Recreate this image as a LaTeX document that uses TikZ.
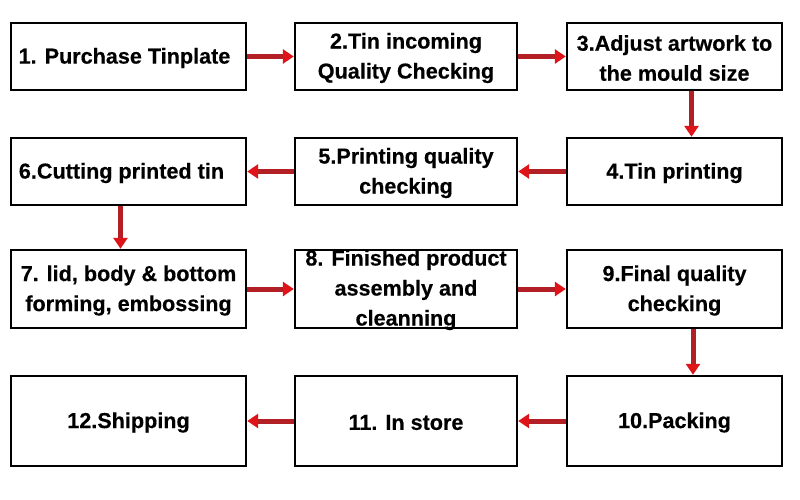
\documentclass[tikz,border=0pt]{standalone}
\usepackage{fontspec}
\setmainfont{Liberation Sans}[FakeBold=0.4]
\usetikzlibrary{arrows.meta}
\definecolor{shaftred}{RGB}{178,32,38}
\definecolor{headred}{RGB}{222,20,24}
\begin{document}
\begin{tikzpicture}[x=1pt,y=-1pt,
 box/.style={draw=black, line width=2.4pt, fill=white, inner sep=0pt},
 wbox/.style={box, minimum width=235pt},
 mbox/.style={box, minimum width=222pt},
 ebox/.style={box, minimum width=215pt},
 shortrow/.style={minimum height=67pt},
 midrow/.style={minimum height=78pt},
 lastrow/.style={minimum height=90pt},
 txt/.style={align=center, inner sep=0pt, font=\fontsize{21.6}{30}\selectfont\bfseries},
 flow/.style={draw=shaftred, line width=5pt,
   -{Triangle[length=11pt,width=14pt,color=headred]}}]
\fill[white] (0,0) rectangle (800,500);
\useasboundingbox (0,0) rectangle (800,500);

\node[wbox,shortrow] (n1) at (128.5,56.5) {};
\node[mbox,shortrow] (n2) at (406,56.5) {};
\node[ebox,shortrow] (n3) at (674.5,56.5) {};
\node[ebox,shortrow] (n4) at (674.5,171.5) {};
\node[mbox,shortrow] (n5) at (406,171.5) {};
\node[wbox,shortrow] (n6) at (128.5,171.5) {};
\node[wbox,midrow] (n7) at (128.5,289) {};
\node[mbox,midrow] (n8) at (406,289) {};
\node[ebox,midrow] (n9) at (674.5,289) {};
\node[ebox,lastrow] (n10) at (674.5,421) {};
\node[mbox,lastrow] (n11) at (406,421) {};
\node[wbox,lastrow] (n12) at (128.5,421) {};

\node[txt] (t1) at ([xshift=-4pt,yshift=-1.5pt]n1.center) {1. Purchase Tinplate};
\node[txt] (t2) at ([yshift=-1.5pt]n2.center) {2.Tin incoming\\Quality Checking};
\node[txt] (t3) at ([yshift=-1.5pt]n3.center) {3.Adjust artwork to\\the mould size};
\node[txt] (t4) at ([yshift=-1.5pt]n4.center) {4.Tin printing};
\node[txt] (t5) at ([yshift=-1.5pt]n5.center) {5.Printing quality\\checking};
\node[txt] (t6) at ([xshift=-7pt,yshift=-1.5pt]n6.center) {6.Cutting printed tin};
\node[txt] (t7) at ([yshift=-1.5pt]n7.center) {7. lid, body \& bottom\\forming, embossing};
\node[txt] (t8) at ([yshift=-1pt]n8.center) {8. Finished product\\assembly and\\cleanning};
\node[txt] (t9) at ([yshift=-1.5pt]n9.center) {9.Final quality\\checking};
\node[txt] (t10) at ([yshift=-1.5pt]n10.center) {10.Packing};
\node[txt] (t11) at ([yshift=-1.5pt]n11.center) {11. In store};
\node[txt] (t12) at ([yshift=-1.5pt]n12.center) {12.Shipping};

\draw[flow] (n1) -- (n2);
\draw[flow] (n2) -- (n3);
\draw[flow] ([xshift=17pt]n3.south) -- ([xshift=17pt]n4.north);
\draw[flow] (n4) -- (n5);
\draw[flow] (n5) -- (n6);
\draw[flow] ([xshift=-8pt]n6.south) -- ([xshift=-8pt]n7.north);
\draw[flow] (n7) -- (n8);
\draw[flow] (n8) -- (n9);
\draw[flow] ([xshift=18.5pt]n9.south) -- ([xshift=18.5pt]n10.north);
\draw[flow] (n10) -- (n11);
\draw[flow] (n11) -- (n12);
\end{tikzpicture}
\end{document}
